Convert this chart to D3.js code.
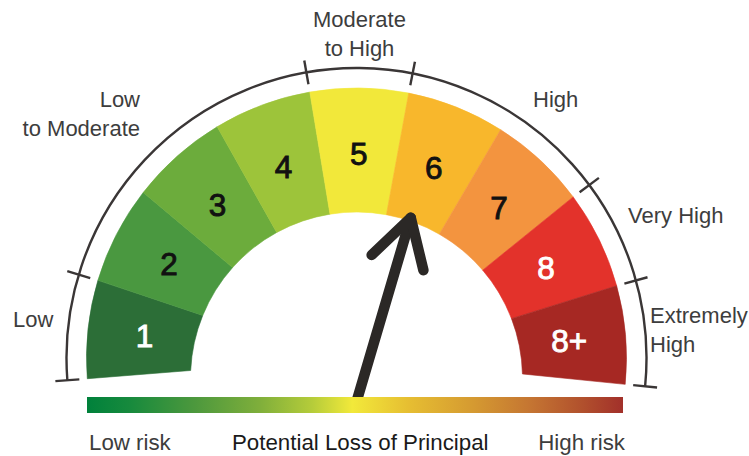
<!DOCTYPE html>
<html>
<head>
<meta charset="utf-8">
<script src="https://cdn.jsdelivr.net/npm/d3@7"></script>
<style>
  html, body { margin: 0; padding: 0; background: #ffffff; }
  svg { display: block; font-family: "Liberation Sans", Arial, sans-serif; }
</style>
</head>
<body>
<svg id="chart" width="749" height="456"></svg>
<script>
// ---------- data ----------
const levels = ["1", "2", "3", "4", "5", "6", "7", "8", "8+"];
const levelColors = ["#2c6e37", "#4a9840", "#6cac3c", "#9dc43a", "#f2e83a", "#f8b72c", "#f3943f", "#e3322b", "#a62823"];
const levelTextColors = ["#ffffff", "#111111", "#111111", "#111111", "#111111", "#111111", "#111111", "#ffffff", "#ffffff"];
const riskGroups = ["Low", "Low to Moderate", "Moderate to High", "High", "Very High", "Extremely High"];
const groupStart = [0, 1, 4, 5, 7, 8];      // first level index of each group
const groupEnd = [1, 4, 5, 7, 8, 9];        // end boundary index of each group
const needleValue = 5.25;                   // position on the 0..9 level scale
const barLabels = ["Low risk", "Potential Loss of Principal", "High risk"];
const barColors = ["#00813b", "#178a3d", "#4c983d", "#7eae3b", "#b5cc3a", "#f2e93a", "#e6be32", "#d59a31", "#c47432", "#b2522d", "#a2302a"];

// ---------- layout ----------
const W = 749, H = 456;
const cx = 356.5;
const outer = { cy: 358, r: 270 };
const inner = { cy: 378, r: 166 };
const scaleArcR = 290;
const rot = 0.6;

const svg = d3.select("#chart");
const outerAngle = d3.scaleLinear().domain([0, 9]).range([-95 + rot, 95 + rot]);
const innerAngle = d3.scaleLinear().domain([0, 9]).range([-88 + rot, 88 + rot]);
const rad = d => d * Math.PI / 180;
const pt = (cy, r, a) => [cx + r * Math.sin(rad(a)), cy - r * Math.cos(rad(a))];

// segments
const segs = svg.append("g").attr("class", "segments");
levels.forEach((lv, i) => {
  const p = d3.path();
  const a0 = outerAngle(i), a1 = outerAngle(i + 1);
  const b0 = innerAngle(i), b1 = innerAngle(i + 1);
  const s = pt(outer.cy, outer.r, a0);
  p.moveTo(s[0], s[1]);
  p.arc(cx, outer.cy, outer.r, rad(a0 - 90), rad(a1 - 90), false);
  const e = pt(inner.cy, inner.r, b1);
  p.lineTo(e[0], e[1]);
  p.arc(cx, inner.cy, inner.r, rad(b1 - 90), rad(b0 - 90), true);
  p.closePath();
  segs.append("path").attr("d", p.toString()).attr("fill", levelColors[i])
    .attr("stroke", levelColors[i]).attr("stroke-width", 0.6);
});

// level numbers
levels.forEach((lv, i) => {
  const po = pt(outer.cy, outer.r, outerAngle(i + 0.5));
  const pi = pt(inner.cy, inner.r, innerAngle(i + 0.5));
  const w = 0.47;
  const x = w * po[0] + (1 - w) * pi[0];
  const y = w * po[1] + (1 - w) * pi[1];
  svg.append("text").attr("x", x).attr("y", y).attr("dy", "0.36em")
    .attr("text-anchor", "middle").attr("font-size", 31.5)
    .attr("fill", levelTextColors[i]).attr("stroke", levelTextColors[i])
    .attr("stroke-width", 0.9).text(lv);
});

// outer scale arc
const arcG = svg.append("g").attr("stroke", "#3a3636").attr("fill", "none").attr("stroke-width", 2.4);
const arcP = d3.path();
const st = pt(outer.cy, scaleArcR, outerAngle(0));
arcP.moveTo(st[0], st[1]);
arcP.arc(cx, outer.cy, scaleArcR, rad(outerAngle(0) - 90), rad(outerAngle(9) - 90), false);
arcG.append("path").attr("d", arcP.toString());
const tickIdx = Array.from(new Set(groupStart.concat(groupEnd)));
tickIdx.forEach(k => {
  const a = outerAngle(k);
  const p1 = pt(outer.cy, scaleArcR - 12, a), p2 = pt(outer.cy, scaleArcR + 12, a);
  arcG.append("line").attr("x1", p1[0]).attr("y1", p1[1]).attr("x2", p2[0]).attr("y2", p2[1]);
});

// group labels
const groupLabelLayout = [
  { split: 1, x: 13, y: 327, anchor: "start" },
  { split: 1, x: 140, y: 107, anchor: "end" },
  { split: 1, x: 359.5, y: 27, anchor: "middle" },
  { split: 1, x: 533, y: 107, anchor: "start" },
  { split: 2, x: 628, y: 223, anchor: "start" },
  { split: 1, x: 650, y: 323, anchor: "start" }
];
riskGroups.forEach((g, i) => {
  const L = groupLabelLayout[i];
  const words = g.split(" ");
  const lines = [words.slice(0, L.split).join(" "), words.slice(L.split).join(" ")].filter(s => s.length);
  const t = svg.append("text").attr("x", L.x).attr("y", L.y)
    .attr("text-anchor", L.anchor).attr("font-size", 22).attr("fill", "#3d3d3d");
  lines.forEach((ln, j) => {
    t.append("tspan").attr("x", L.x).attr("dy", j === 0 ? 0 : 29).text(ln);
  });
});

// needle
const pivot = [357, 400];
const needleLen = 190;
const needleAngle = outerAngle(needleValue);
const ng = svg.append("g").attr("transform", `translate(${pivot[0]},${pivot[1]}) rotate(${needleAngle})`)
  .attr("stroke", "#2b2826").attr("stroke-width", 10.5).attr("stroke-linecap", "round")
  .attr("stroke-linejoin", "round").attr("fill", "none");
ng.append("line").attr("x1", 0).attr("y1", 0).attr("x2", 0).attr("y2", -needleLen);
const armLen = 54, armAng = rad(30);
ng.append("path").attr("d", d3.line()([
  [-armLen * Math.sin(armAng), -needleLen + armLen * Math.cos(armAng)],
  [0, -needleLen],
  [armLen * Math.sin(armAng), -needleLen + armLen * Math.cos(armAng)]
]));

// gradient bar
const barX = d3.scaleLinear().domain([0, 1]).range([87, 623]);
const defs = svg.append("defs");
const grad = defs.append("linearGradient").attr("id", "riskGrad").attr("x1", "0%").attr("x2", "100%");
const stopPos = [0, 0.08, 0.2, 0.32, 0.42, 0.495, 0.6, 0.72, 0.83, 0.92, 1];
barColors.forEach((c, i) => grad.append("stop").attr("offset", stopPos[i]).attr("stop-color", c));
svg.append("rect").attr("x", barX(0)).attr("y", 397).attr("width", barX(1) - barX(0)).attr("height", 16)
  .attr("fill", "url(#riskGrad)");

// bottom labels
svg.append("text").attr("x", barX(0) + 2).attr("y", 450).attr("font-size", 22.3).attr("fill", "#3d3d3d").text(barLabels[0]);
svg.append("text").attr("x", 232).attr("y", 450).attr("font-size", 22.3).attr("fill", "#1a1a1a").text(barLabels[1]);
svg.append("text").attr("x", barX(1) + 2).attr("y", 450).attr("text-anchor", "end").attr("font-size", 22.3).attr("fill", "#3d3d3d").text(barLabels[2]);
</script>
</body>
</html>
